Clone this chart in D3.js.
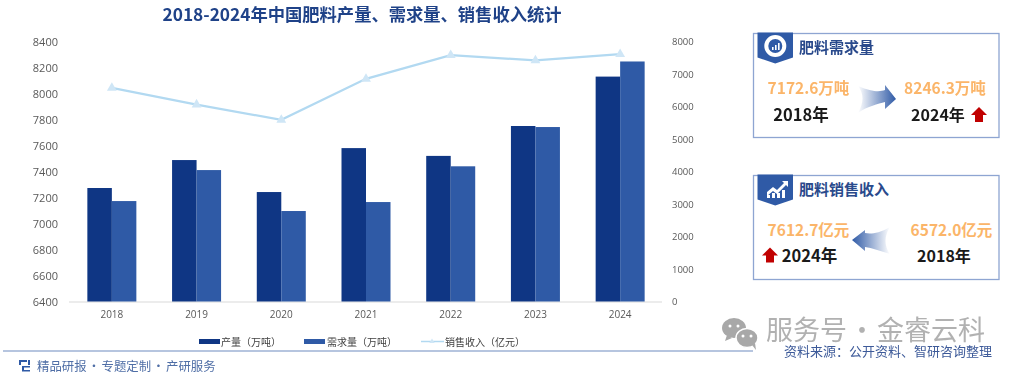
<!DOCTYPE html>
<html>
<head>
<meta charset="utf-8">
<script src="https://cdn.jsdelivr.net/npm/d3@7"></script>
<style>
  html, body { margin: 0; padding: 0; background: #fff; }
  svg { display: block; filter: blur(0.5px); }
  text { font-family: "Noto Sans CJK SC", "Noto Sans", sans-serif; }
</style>
</head>
<body>
<div id="chart"></div>
<script>
(function () {
  'use strict';

  var years = ['2018', '2019', '2020', '2021', '2022', '2023', '2024'];
  var output = [7273, 7488, 7242, 7580, 7520, 7750, 8130];
  var demand = [7172.6, 7411, 7096, 7165, 7440, 7742, 8246.3];
  var revenue = [6572, 6060, 5590, 6850, 7580, 7420, 7612.7];
  var leftTicks = [6400, 6600, 6800, 7000, 7200, 7400, 7600, 7800, 8000, 8200, 8400];
  var rightTicks = [0, 1000, 2000, 3000, 4000, 5000, 6000, 7000, 8000];
  var legendNames = ['产量（万吨）', '需求量（万吨）', '销售收入（亿元）'];

  var NAVY = '#0f3684';
  var BLUE = '#2f5aa6';
  var LINE = '#b2d9f1';
  var ORANGE = '#fbb569';
  var GREY = '#595959';
  var FRAME = '#8ea5d2';

  var width = 1024, height = 373;
  var svg = d3.select('#chart').append('svg').attr('width', width).attr('height', height);

  var defs = svg.append('defs');
  var gradR = defs.append('linearGradient').attr('id', 'arrowRight');
  gradR.append('stop').attr('offset', '0%').attr('stop-color', '#fff');
  gradR.append('stop').attr('offset', '100%').attr('stop-color', '#2f5aa6');
  var gradL = defs.append('linearGradient').attr('id', 'arrowLeft');
  gradL.append('stop').attr('offset', '0%').attr('stop-color', '#2f5aa6');
  gradL.append('stop').attr('offset', '100%').attr('stop-color', '#fff');

  var x = d3.scaleBand().domain(years).range([69.5, 662.5]);
  var yLeft = d3.scaleLinear().domain([6400, 8400]).range([301.5, 41.5]);
  var yRight = d3.scaleLinear().domain([0, 8000]).range([301.5, 41.5]);
  var barW = 24.5;
  var plain = d3.format('d');

  // Title
  svg.append('text')
    .attr('x', 362).attr('y', 21)
    .attr('text-anchor', 'middle')
    .style('font-size', '17.3px').style('font-weight', 700)
    .attr('fill', '#1f4288')
    .text('2018-2024年中国肥料产量、需求量、销售收入统计');

  // Axes
  var axisLeft = d3.axisLeft(yLeft).tickValues(leftTicks).tickFormat(plain).tickSize(0).tickPadding(0);
  var gl = svg.append('g').attr('transform', 'translate(58,0)').call(axisLeft);
  gl.select('.domain').remove();
  gl.selectAll('text').style('font-size', '11px').attr('fill', GREY)
    .style('font-family', '"Open Sans", sans-serif');

  var axisRight = d3.axisRight(yRight).tickValues(rightTicks).tickFormat(plain).tickSize(0).tickPadding(0);
  var gr = svg.append('g').attr('transform', 'translate(672,0)').call(axisRight);
  gr.select('.domain').remove();
  gr.selectAll('text').style('font-size', '9.5px').attr('fill', GREY)
    .style('font-family', '"Open Sans", sans-serif');

  svg.append('line')
    .attr('x1', 69).attr('x2', 662).attr('y1', 302).attr('y2', 302)
    .attr('stroke', '#d9d9d9');

  var axisBottom = d3.axisBottom(x).tickSize(0).tickPadding(0);
  var gb = svg.append('g').attr('transform', 'translate(0,311)').call(axisBottom);
  gb.select('.domain').remove();
  gb.selectAll('text').style('font-size', '10px').attr('fill', GREY)
    .style('font-family', '"Open Sans", sans-serif');

  function cx(i) {
    return x(years[i]) + x.bandwidth() / 2;
  }

  // Bars
  svg.append('g').selectAll('rect').data(output).enter().append('rect')
    .attr('x', function (d, i) { return cx(i) - barW; })
    .attr('y', function (d) { return yLeft(d); })
    .attr('width', barW)
    .attr('height', function (d) { return yLeft(6400) - yLeft(d); })
    .attr('fill', NAVY);

  svg.append('g').selectAll('rect').data(demand).enter().append('rect')
    .attr('x', function (d, i) { return cx(i); })
    .attr('y', function (d) { return yLeft(d); })
    .attr('width', barW)
    .attr('height', function (d) { return yLeft(6400) - yLeft(d); })
    .attr('fill', BLUE);

  // Line
  var line = d3.line()
    .x(function (d, i) { return cx(i); })
    .y(function (d) { return yRight(d); });

  svg.append('path').datum(revenue)
    .attr('d', line)
    .attr('fill', 'none')
    .attr('stroke', LINE)
    .attr('stroke-width', 2.2);

  var tri = d3.symbol().type(d3.symbolTriangle).size(42);
  svg.append('g').selectAll('path').data(revenue).enter().append('path')
    .attr('d', tri)
    .attr('fill', '#cfe6f6')
    .attr('transform', function (d, i) {
      return 'translate(' + cx(i) + ',' + yRight(d) + ')';
    });

  // Legend
  var lg = svg.append('g');
  var swatchX = [199, 304];
  var legendTextX = [221, 327, 445];
  legendNames.forEach(function (name, i) {
    if (i < 2) {
      lg.append('rect')
        .attr('x', swatchX[i])
        .attr('y', 339).attr('width', 21).attr('height', 5)
        .attr('fill', i === 0 ? NAVY : BLUE);
    } else {
      lg.append('line')
        .attr('x1', 421).attr('x2', 444).attr('y1', 341.5).attr('y2', 341.5)
        .attr('stroke', LINE).attr('stroke-width', 1.5);
      lg.append('path').attr('d', d3.symbol().type(d3.symbolTriangle).size(12))
        .attr('transform', 'translate(432,341.5)').attr('fill', '#cfe6f6');
    }
    lg.append('text')
      .attr('x', legendTextX[i]).attr('y', 345.5)
      .style('font-size', '10px').attr('fill', '#404040')
      .text(name);
  });

  // Footer
  svg.append('line')
    .attr('x1', 3).attr('x2', 753).attr('y1', 351).attr('y2', 351)
    .attr('stroke', '#6f8cc0').attr('stroke-width', 1.2);

  svg.append('path')
    .attr('d', 'M19 360h8v2h-6v3h-2zM22 366h8v1.5h-6v2.5h6v1.5h-8zM28 360h2v5h-2z')
    .attr('fill', '#2f5aa6');
  svg.append('text')
    .attr('x', 37).attr('y', 370.5)
    .style('font-size', '12.4px').style('word-spacing', '-1.5px').attr('fill', '#4f6ea6')
    .text('精品研报 · 专题定制 · 产研服务');

  // Watermark
  svg.append('text')
    .attr('x', 766).attr('y', 340)
    .style('font-size', '27px').style('word-spacing', '-4.5px')
    .attr('fill', '#a8a8a8').attr('fill-opacity', 0.9)
    .text('服务号 · 金睿云科');
  var wm = svg.append('g').attr('fill', '#a8a8a8');
  wm.append('ellipse').attr('cx', 734).attr('cy', 328).attr('rx', 12).attr('ry', 10);
  wm.append('path').attr('d', 'M727 335l-2 6 7-3z');
  wm.append('ellipse').attr('cx', 747).attr('cy', 338).attr('rx', 11).attr('ry', 9.5)
    .attr('stroke', '#fff').attr('stroke-width', 1.5);
  wm.append('path').attr('d', 'M752 345l4 5-1-7z');
  var eyes = svg.append('g').attr('fill', '#fff');
  [[730, 326], [738, 326], [743, 336], [751, 336]].forEach(function (p) {
    eyes.append('circle').attr('cx', p[0]).attr('cy', p[1]).attr('r', 1.5);
  });

  svg.append('text')
    .attr('x', 784).attr('y', 355.5)
    .style('font-size', '13px').attr('fill', '#3d5a99')
    .text('资料来源：公开资料、智研咨询整理');

  // Stat cards
  function card(opts) {
    var g = svg.append('g');
    g.append('rect')
      .attr('x', 753.5).attr('y', opts.y).attr('width', 245.5).attr('height', opts.h)
      .attr('fill', '#fff').attr('stroke', FRAME).attr('stroke-width', 1.3);
    g.append('path')
      .attr('d', 'M757.5 ' + (opts.y - 1) + 'h35.5v' + 25 + 'l-17.75 6l-17.75 -6z')
      .attr('fill', BLUE);
    g.append('text')
      .attr('x', 799).attr('y', opts.y + 19)
      .style('font-size', '15px').style('font-weight', 700)
      .attr('fill', '#2a4a8c')
      .text(opts.title);
    return g;
  }

  function label(g, px, py, txt, color, size) {
    g.append('text')
      .attr('x', px).attr('y', py)
      .attr('text-anchor', 'middle')
      .style('font-size', size + 'px').style('font-weight', 700)
      .attr('fill', color)
      .text(txt);
  }

  function upArrow(g, px, py) {
    g.append('path')
      .attr('transform', 'translate(' + px + ',' + py + ')')
      .attr('d', 'M0 -8L8 0H4V7H-4V0H-8Z')
      .attr('fill', '#c00000');
  }

  var c1 = card({ y: 33.5, h: 104, title: '肥料需求量' });
  c1.append('circle').attr('cx', 775.3).attr('cy', 46).attr('r', 9)
    .attr('fill', 'none').attr('stroke', '#fff').attr('stroke-width', 4);
  c1.append('path').attr('d', 'M772 50v-3h1.6v3zM775 50v-5h1.6v5zM778 50v-7h1.6v7z').attr('fill', '#fff');
  label(c1, 808.5, 93.5, '7172.6万吨', ORANGE, 15.5);
  label(c1, 945, 93.5, '8246.3万吨', ORANGE, 15.5);
  label(c1, 801, 121, '2018年', '#1a1a1a', 16.5);
  label(c1, 938, 121, '2024年', '#1a1a1a', 16);
  upArrow(c1, 979, 115);
  c1.append('path')
    .attr('d', 'M858 86C872 92 880 92 885 90V85L896 99L885 109V102C878 104 868 106 858 113C864 102 864 94 858 86Z')
    .attr('fill', 'url(#arrowRight)');

  var c2 = card({ y: 175.5, h: 104, title: '肥料销售收入' });
  c2.append('path')
    .attr('d', 'M767 192l6 -5l4 3l7 -7l-2 -2h6v6l-2 -2l-9 9l-4 -3l-6 5z')
    .attr('fill', '#fff');
  c2.append('rect').attr('x', 767).attr('y', 195).attr('width', 3).attr('height', 3).attr('fill', '#fff');
  c2.append('rect').attr('x', 772).attr('y', 193).attr('width', 3).attr('height', 5).attr('fill', '#fff');
  c2.append('rect').attr('x', 777).attr('y', 193).attr('width', 3).attr('height', 5).attr('fill', '#fff');
  c2.append('rect').attr('x', 782).attr('y', 190).attr('width', 3).attr('height', 8).attr('fill', '#fff');
  label(c2, 808.5, 235.5, '7612.7亿元', ORANGE, 15.5);
  label(c2, 951.5, 235.5, '6572.0亿元', ORANGE, 15.5);
  label(c2, 809.5, 262, '2024年', '#1a1a1a', 16.5);
  label(c2, 944, 262, '2018年', '#1a1a1a', 16);
  upArrow(c2, 770, 255.5);
  c2.append('path')
    .attr('d', 'M890 227C878 234 870 234 865 233V230L852 240L865 251V247C872 248 880 251 890 254C884 246 884 236 890 227Z')
    .attr('fill', 'url(#arrowLeft)');
})();
</script>
</body>
</html>
